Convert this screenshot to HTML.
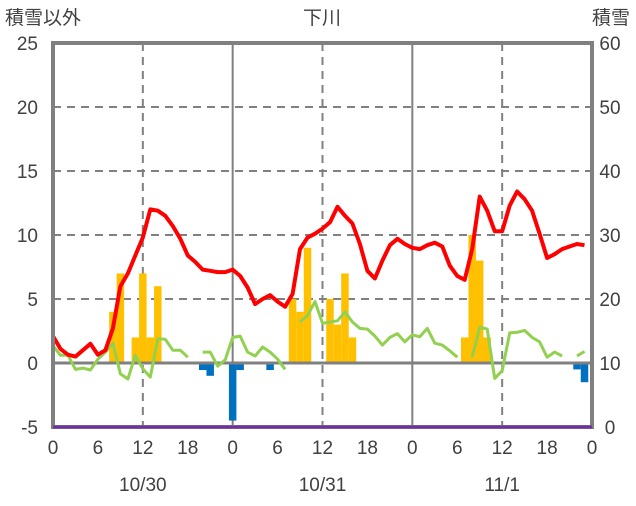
<!DOCTYPE html>
<html><head><meta charset="utf-8"><style>
body{margin:0;background:#fff;}
svg text{font-family:"Liberation Sans","Noto Sans CJK JP",sans-serif;fill:#404040;}
</style></head><body>
<svg id="chart" width="636" height="501" xmlns="http://www.w3.org/2000/svg">
<g id="grid"></g><g id="bars"></g><g id="lines"></g><g id="frame"></g><g id="top"></g><g id="labels"></g>
</svg>
<script>
const temp=[2.1,1.1,0.65,0.5,1.0,1.5,0.65,1.0,2.7,6.0,7.0,8.4,9.8,12.0,11.9,11.5,10.7,9.7,8.4,7.9,7.3,7.2,7.1,7.1,
7.3,6.8,5.9,4.6,5.0,5.3,4.8,4.4,5.4,8.9,9.8,10.1,10.5,11.0,12.2,11.5,10.9,9.3,7.2,6.6,8.0,9.2,9.7,9.3,
9.0,8.9,9.2,9.4,9.1,7.6,6.8,6.5,8.9,13.0,11.9,10.3,10.3,12.3,13.4,12.8,11.9,10.1,8.2,8.5,8.9,9.1,9.3,9.2];
const wind=[1.35,0.6,0.6,-0.5,-0.4,-0.55,0.3,0.85,1.55,-0.85,-1.25,0.6,-0.45,-1.1,1.9,1.85,1.0,1.0,0.45,null,0.85,0.85,-0.25,0.25,
2.0,2.1,0.85,0.55,1.25,0.85,0.3,-0.5,null,3.2,3.7,4.8,3.1,3.2,3.3,4.0,3.2,2.7,2.65,2.1,1.4,2.0,2.3,1.65,
2.2,2.05,2.7,1.55,1.4,0.95,0.45,null,0.45,2.8,2.65,-1.2,-0.6,2.35,2.4,2.55,2.0,1.65,0.45,0.85,0.55,null,0.55,0.9];
const precipHours=[8,9,11,12,13,14,32,33,34,37,38,39,40,55,56,57,58];
const precipVals=[4,7,2,7,2,6,5,4,9,5,3,7,2,2,10,8,2];
const dropHours=[20,21,24,25,29,70,71];
const dropVals=[-0.55,-1.0,-4.5,-0.55,-0.55,-0.5,-1.5];
const snowDepth=new Array(73).fill(0);
const leftTicks=[-5,0,5,10,15,20,25];
const rightTicks=[0,10,20,30,40,50,60];
const hourTicks=["0","6","12","18","0","6","12","18","0","6","12","18","0"];
const dates=["10/30","10/31","11/1"];

const X0=53,X1=592,Y0=43,Y1=427;
const xs=h=>X0+h*(X1-X0)/72;
const yl=v=>Y1-(v+5)*(Y1-Y0)/30;
const yr=v=>Y1-v*(Y1-Y0)/60;
const NS="http://www.w3.org/2000/svg";
function mk(t,p,a){const e=document.createElementNS(NS,t);for(const k in a)e.setAttribute(k,a[k]);document.getElementById(p).appendChild(e);return e;}
[5,10,15,20].forEach(v=>{const e=mk('line','grid',{x1:X0,x2:X1,y1:yl(v),y2:yl(v),stroke:'#808080','stroke-width':2,'stroke-dasharray':'8,6'});

});
[12,36,60].forEach(h=>{const e=mk('line','grid',{x1:xs(h),x2:xs(h),y1:Y0,y2:Y1,stroke:'#808080','stroke-width':2,'stroke-dasharray':'8,6'});

});
[24,48].forEach(h=>{const e=mk('line','grid',{x1:xs(h),x2:xs(h),y1:Y0,y2:Y1,stroke:'#808080','stroke-width':2});

});
const bw=(X1-X0)/72;
precipHours.forEach((h,i)=>{const v=precipVals[i];const e=mk('rect','bars',{x:xs(h)-bw/2,y:yl(v),width:bw,height:yl(0)-yl(v),fill:'#FFC000'});

});
dropHours.forEach((h,i)=>{const v=dropVals[i];const e=mk('rect','bars',{x:xs(h)-bw/2,y:yl(0),width:bw,height:yl(v)-yl(0),fill:'#0070C0'});

});
const z=mk('line','lines',{x1:X0,x2:X1,y1:yl(0),y2:yl(0),stroke:'#808080','stroke-width':3});


function path(arr,f){let d='',pen=false;arr.forEach((v,i)=>{if(v===null){pen=false;return;}d+=(pen?'L':'M')+xs(i).toFixed(1)+','+f(v).toFixed(1);pen=true;});return d;}
const g=mk('path','lines',{d:path(wind,yl),fill:'none',stroke:'#92D050','stroke-width':3,'stroke-linejoin':'round'});


const r=mk('path','lines',{d:path(temp,yl),fill:'none',stroke:'#FF0000','stroke-width':4,'stroke-linejoin':'round'});


const fr=mk('rect','frame',{x:X0,y:Y0,width:X1-X0,height:Y1-Y0,fill:'none',stroke:'#808080','stroke-width':4});


const sd=mk('path','top',{d:path(snowDepth,yr),fill:'none',stroke:'#7030A0','stroke-width':3});


function txt(s,x,y,anchor,name){const e=mk('text','labels',{x:x,y:y,'text-anchor':anchor,'font-size':19});e.textContent=s;

return e;}
leftTicks.forEach(v=>txt(String(v),38,yl(v)+7,'end','left-tick-label'));
rightTicks.forEach(v=>txt(String(v),610,yr(v)+7,'middle','right-tick-label'));
hourTicks.forEach((s,i)=>txt(s,xs(i*6),454,'middle','hour-tick-label'));
dates.forEach((s,i)=>txt(s,xs(12+i*24),491,'middle','date-label'));
txt('積雪以外',5,24,'start','left-axis-title');
txt('下川',322,24,'middle','chart-title');
txt('積雪',630,24,'end','right-axis-title');
</script>
</body></html>
